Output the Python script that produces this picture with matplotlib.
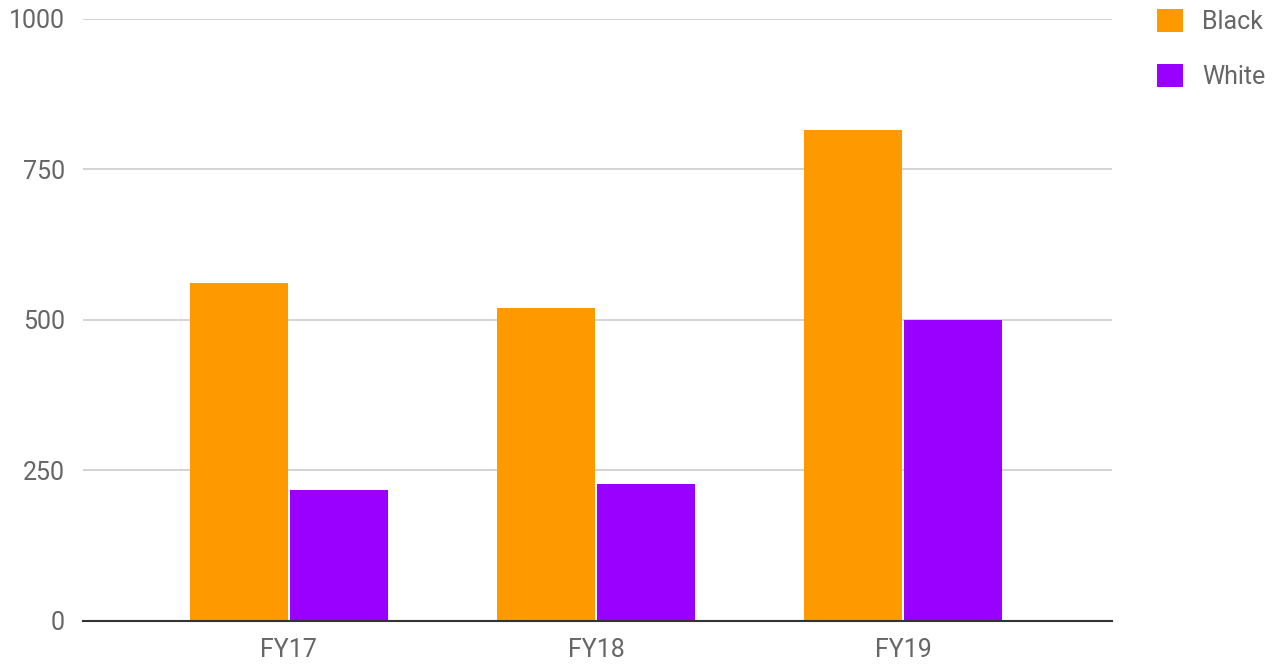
import numpy as np
import matplotlib.pyplot as plt

plt.rcParams['font.family'] = ['Roboto', 'DejaVu Sans']

categories = ['FY17', 'FY18', 'FY19']
black = [561, 520, 816]
white = [218, 228, 500]
yticks = [0, 250, 500, 750, 1000]

fig = plt.figure(figsize=(12.74, 6.66), dpi=100)
ax = fig.add_axes([0.0652, 0.0676, 0.8076, 0.9039])

x = np.arange(len(categories))
w = 0.32
ax.bar(x - w / 2 - 0.003, black, w, color='#FF9900', label='Black', zorder=2)
ax.bar(x + w / 2 + 0.003, white, w, color='#9900FF', label='White', zorder=2)

ax.set_xlim(-0.67, 2.68)
ax.set_ylim(0, 1000)
ax.set_yticks(yticks)
ax.set_xticks(x)
ax.set_xticklabels(categories)
ax.yaxis.grid(True, color='#cccccc', linewidth=1.2, zorder=0)
ax.set_axisbelow(True)

for s in ['top', 'right', 'left']:
    ax.spines[s].set_visible(False)
ax.spines['bottom'].set_color('#333333')
ax.spines['bottom'].set_linewidth(1.5)
ax.spines['bottom'].set_zorder(3)

ax.tick_params(axis='both', length=0, labelsize=18, colors='#666666')
ax.tick_params(axis='y', pad=13)
ax.tick_params(axis='x', pad=12)

# legend in the top right corner, outside the axes
leg = ax.legend(loc='upper left', frameon=False, fontsize=18,
                handlelength=1.05, handleheight=1.05, handletextpad=0.75,
                labelspacing=1.2, borderaxespad=0, borderpad=0)
for t in leg.get_texts():
    t.set_color('#666666')
leg.set_bbox_to_anchor((1157 / 1274, 1 - 9 / 666), transform=fig.transFigure)

fig.savefig('out.png', dpi=100)
